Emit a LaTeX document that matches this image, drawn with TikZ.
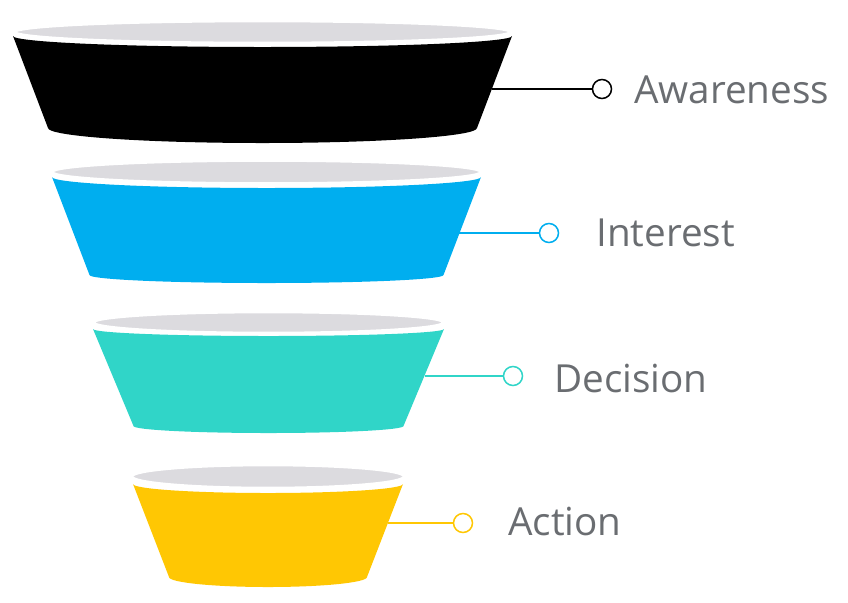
\documentclass[tikz,border=0pt]{standalone}
\usepackage{fontspec}
\setmainfont{Open Sans}
\usepackage{tikz}
\usetikzlibrary{positioning}
\definecolor{fblack}{HTML}{000000}
\definecolor{fblue}{HTML}{00AEEF}
\definecolor{fteal}{HTML}{30D5C8}
\definecolor{fyellow}{HTML}{FFC703}
\definecolor{rimgrey}{HTML}{DCDBDF}
\definecolor{textgrey}{HTML}{6A6D71}

\begin{document}
\begin{tikzpicture}[x=0.03cm,y=-0.03cm,
  rim/.style={fill=rimgrey,draw=white,line width=2.2pt},
  dot/.style={circle,draw=#1,fill=white,line width=1.3pt,minimum size=0.57cm,inner sep=0pt},
  stagetext/.style={anchor=base west,inner sep=0pt,text=textgrey,font=\fontsize{33}{40}\selectfont},
  link/.style={draw=#1,line width=1.3pt}]
\useasboundingbox (0,0) rectangle (848,602);
\foreach \cx/\col/\ty/\aa/\tr/\by/\ab/\rb/\gy/\ga/\gr in {
    262.5/fblack/36/249.5/11/128/214.5/15/32/247.5/11,
    266.5/fblue/177/214.5/11/275/177/8/172/214.5/11.5,
    268.5/fteal/329/175.5/7/426/135/7/322.5/175/10.5,
    268/fyellow/484/135/9/577/99/10/476.5/136/11.5}
{
  \fill[\col] (\cx-\aa,\ty) -- (\cx-\ab,\by)
      arc[start angle=180,end angle=0,x radius=\ab,y radius=\rb]
      -- (\cx+\aa,\ty)
      arc[start angle=0,end angle=180,x radius=\aa,y radius=\tr] -- cycle;
  \draw[rim] (\cx,\gy) ellipse[x radius=\ga,y radius=\gr];
}
\coordinate (aware-edge) at (492,89);
\coordinate (inter-edge) at (459,233);
\coordinate (decis-edge) at (425,376);
\coordinate (action-edge) at (388,523);
\node[dot=fblack] (aware-dot) at (602,89) {};
\node[dot=fblue] (inter-dot) at (549,233) {};
\node[dot=fteal] (decis-dot) at (513,376) {};
\node[dot=fyellow] (action-dot) at (463,523) {};
\draw[link=fblack] (aware-edge) -- (aware-dot);
\draw[link=fblue] (inter-edge) -- (inter-dot);
\draw[link=fteal] (decis-edge) -- (decis-dot);
\draw[link=fyellow] (action-edge) -- (action-dot);
\node[stagetext] (aware-text) at (634,103) {Awareness};
\node[stagetext] (inter-text) at (596,246) {Interest};
\node[stagetext] (decis-text) at (554,392) {Decision};
\node[stagetext] (action-text) at (508,535) {Action};
\end{tikzpicture}
\end{document}
